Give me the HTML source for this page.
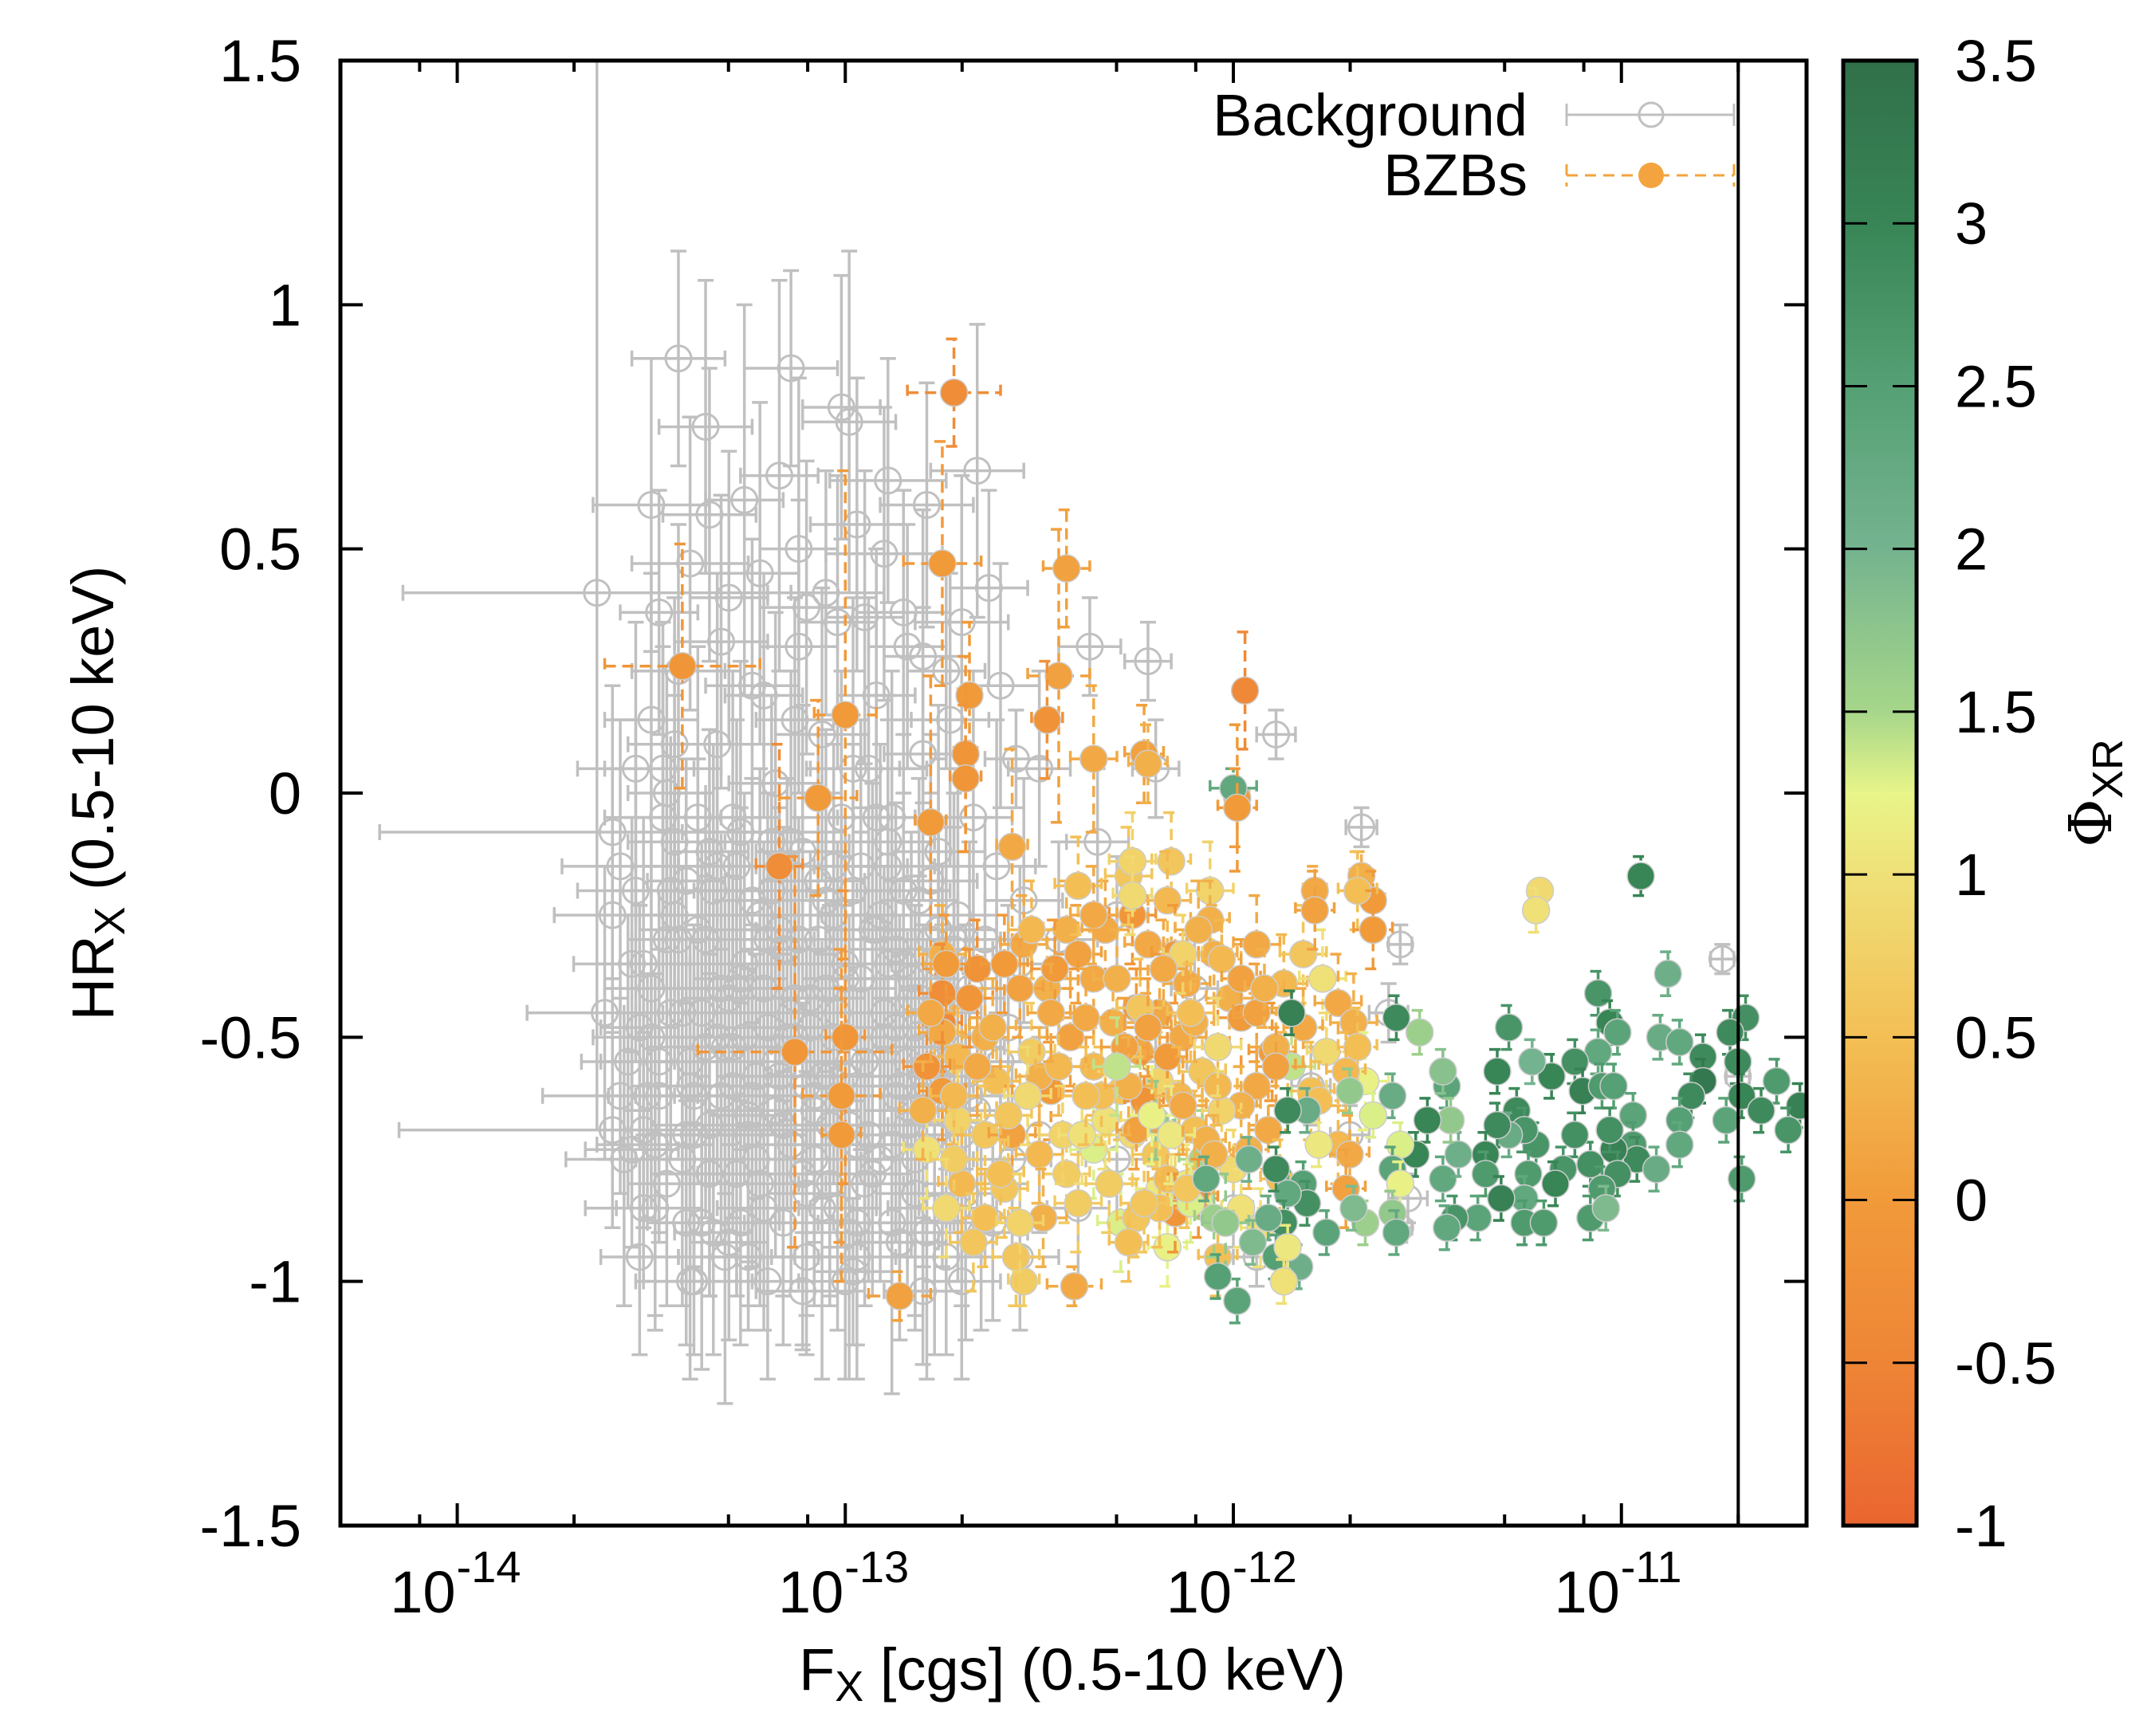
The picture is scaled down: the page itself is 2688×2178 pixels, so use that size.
<!DOCTYPE html>
<html><head><meta charset="utf-8"><style>
html,body{margin:0;padding:0;background:#fff;}
svg{display:block;font-family:"Liberation Sans",Arial,sans-serif;}
</style></head><body>
<svg id="chart" xmlns="http://www.w3.org/2000/svg" width="2688" height="2178" viewBox="0 0 2688 2178">
<defs>
<linearGradient id="cbgrad" x1="0" y1="1" x2="0" y2="0">
<stop offset="0" stop-color="#ea6530"/><stop offset="0.111" stop-color="#ee8536"/><stop offset="0.222" stop-color="#f19a3a"/><stop offset="0.333" stop-color="#f3bf55"/><stop offset="0.444" stop-color="#efe078"/><stop offset="0.5" stop-color="#e8f589"/><stop offset="0.556" stop-color="#a6d68a"/><stop offset="0.667" stop-color="#74b38f"/><stop offset="0.778" stop-color="#55a074"/><stop offset="0.889" stop-color="#388556"/><stop offset="1" stop-color="#31704a"/>
</linearGradient>
<clipPath id="plotclip"><rect x="427" y="76" width="1839" height="1838"/></clipPath>
</defs>
<rect x="0" y="0" width="2688" height="2178" fill="#fff"/>
<g id="bg-layer" clip-path="url(#plotclip)"></g>
<g id="bz-layer" clip-path="url(#plotclip)"></g>
<g id="axes"></g>
<g id="legend">
<text x="1916" y="170" font-size="74" text-anchor="end">Background</text>
<text x="1916" y="245" font-size="74" text-anchor="end">BZBs</text>
<g stroke="#c0c0c0" stroke-width="3" fill="none">
<line x1="1965" y1="144" x2="2175" y2="144"/><line x1="1965" y1="130" x2="1965" y2="158"/><line x1="2175" y1="130" x2="2175" y2="158"/><circle cx="2071" cy="144" r="15"/></g>
<g stroke="#f3a43e" stroke-width="3" fill="none">
<line x1="1965" y1="220" x2="2175" y2="220" stroke-dasharray="14,9"/><line x1="1965" y1="206" x2="1965" y2="234" stroke-dasharray="14,9"/><line x1="2175" y1="206" x2="2175" y2="234" stroke-dasharray="14,9"/><circle cx="2071" cy="220" r="16" fill="#f3a43e" stroke="none"/></g>
</g>
<text transform="translate(142,995) rotate(-90)" font-size="74" text-anchor="middle">HR<tspan font-size="54" dy="14">X</tspan><tspan dy="-14"> (0.5-10 keV)</tspan></text>
<text x="1345" y="2120" font-size="74" text-anchor="middle">F<tspan font-size="54" dy="14">X</tspan><tspan dy="-14"> [cgs] (0.5-10 keV)</tspan></text>
<text transform="translate(2648,995) rotate(-90)" font-size="74" text-anchor="middle" font-family="'DejaVu Serif','Liberation Serif',serif">Φ<tspan font-size="54" dy="14" font-family="'Liberation Sans',sans-serif">XR</tspan></text>
</svg>
<script>
// ---------- data ----------
const xLogMin = Math.log10(5e-15), xLogMax = Math.log10(3e-11);
const yMin = -1.5, yMax = 1.5;
const cbMin = -1, cbMax = 3.5;
const xTickExps = [-14, -13, -12, -11];
const xMinorMults = [2, 5, 8];
const yTickValues = [1.5, 1, 0.5, 0, -0.5, -1, -1.5];
const yTickLabels = ["1.5", "1", "0.5", "0", "-0.5", "-1", "-1.5"];
const cbTickValues = [3.5, 3, 2.5, 2, 1.5, 1, 0.5, 0, -0.5, -1];
const cbTickLabels = ["3.5", "3", "2.5", "2", "1.5", "1", "0.5", "0", "-0.5", "-1"];
const vLineFlux = 2e-11;

const bgF = [-13.64,-13.43,-13.14,-13.01,-12.99,-12.89,-12.66,-13.17,-13.50,-13.35,
-12.79,-12.63,-12.90,-12.37,-12.22,-11.89,-11.67,-11.57,-11.57,-11.55,
-11.94,-10.74,-10.70,-12.56,-13.60,-13.60,-13.52,-13.55,-13.52,-13.50,
-13.48,-13.40,-13.32,-13.22,-13.10,-13.05,-12.95,-12.85,-12.80,-12.74,
-12.70,-12.60,-12.50,-12.20,-12.35,-12.30,-12.45,-12.55,-12.60,-12.50,
-12.40,-12.55,-12.70,-12.65,-12.30,-12.20,-12.10,-12.00,-11.80,-11.60,
-11.70,
-13.45,-13.42,-13.40,-13.38,-13.36,-13.35,-13.33,-13.31,-13.30,-13.28,
-13.27,-13.25,-13.24,-13.22,-13.21,-13.20,-13.18,-13.17,-13.15,-13.14,
-13.12,-13.11,-13.10,-13.09,-13.08,-13.06,-13.05,-13.04,-13.03,-13.02,
-13.00,-12.99,-12.98,-12.97,-12.96,-12.95,-12.93,-12.92,-12.91,-12.90,
-12.88,-12.87,-12.86,-12.85,-12.84,-12.83,-12.82,-12.81,-12.80,-12.78,
-12.77,-12.76,-12.75,-12.74,-12.73,-12.72,-12.71,-12.70,-12.68,-12.67,
-12.66,-12.64,-12.62,-12.61,-12.58,-12.57,-12.54,-13.55,-13.56,-13.58,
-13.53,-13.50,-13.48,-13.47,-13.46,-13.44,-13.43,-13.41,-13.39,-13.37,
-13.34,-13.32,-13.29,-13.26,-13.23,-13.19,-13.16,-13.13,-13.07,-13.01,
-12.94,-12.89,-12.79,-12.69,-13.62,-13.60,-13.57,-13.54,-13.20,-13.00,
-12.80,-13.40,-13.30,-13.12,-12.97,-13.36,-13.26];
const bgH = [0.41,0.89,0.87,0.79,0.76,0.64,0.66,0.65,0.59,0.57,
0.59,0.42,0.49,0.30,0.27,0.12,-0.07,-0.31,-0.89,-0.83,
-0.95,-0.34,-0.58,0.07,-0.08,-0.69,-0.69,-0.73,-0.85,0.15,
0.37,0.47,0.31,0.45,0.38,0.41,0.36,0.37,0.28,0.25,
0.35,0.22,0.05,0.05,-0.10,-0.25,-0.30,-0.35,-0.55,-0.70,
-0.85,-0.95,-1.0,-0.9,-0.75,-0.55,-0.40,-0.85,-0.60,-0.45,
-0.70,
-0.2,-0.45,-0.6,-0.05,-0.3,-0.78,0.1,-0.52,-0.92,-0.15,
-0.38,-0.66,0.22,-0.25,-0.85,-0.48,0.02,-0.58,-0.32,-0.72,
0.30,-0.12,-0.95,-0.42,-0.62,0.12,-0.22,-0.80,-0.50,0.35,
-0.35,-0.68,0.05,-0.88,-0.15,-0.55,-0.28,0.20,-0.75,-0.45,
-0.05,-0.62,-0.92,-0.20,0.30,-0.38,-0.82,-0.52,0.08,-0.30,
-0.70,-0.12,-0.45,-0.95,0.15,-0.58,-0.25,-0.80,-0.40,-0.05,
-0.65,-0.30,-0.88,-0.15,-0.48,-0.75,-0.22,-0.35,-0.55,-0.15,
-0.95,-0.40,-0.62,0.05,-0.80,-0.10,0.25,-0.88,-0.70,-0.45,
-0.20,-0.62,-0.05,-0.50,-0.75,-0.20,-0.88,-0.50,-0.30,-0.05,
-0.70,-0.35,-0.60,-0.52,-0.45,-0.25,-0.75,0.05,-1.0,-1.0,
-1.02,-1.0,0.40,0.50,0.55,0.75,0.60];
const bgEx = [0.5,0.12,0.12,0.1,0.12,0.15,0.12,0.1,0.15,0.12,
0.12,0.1,0.15,0.08,0.06,0.05,0.04,0.03,0.03,0.05,
0.06,0.03,0.03,0.08,0.6,0.55,0.1,0.12,0.15,0.12,
0.1,0.15,0.12,0.1,0.12,0.15,0.1,0.12,0.1,0.1,
0.12,0.1,0.08,0.06,0.08,0.08,0.1,0.1,0.1,0.1,
0.08,0.1,0.1,0.12,0.08,0.08,0.06,0.05,0.05,0.05,
0.05,
0.15,0.12,0.15,0.12,0.1,0.15,0.12,0.12,0.1,0.15,
0.12,0.1,0.12,0.1,0.12,0.15,0.12,0.1,0.12,0.12,
0.1,0.12,0.1,0.12,0.15,0.12,0.1,0.12,0.12,0.1,
0.12,0.1,0.12,0.1,0.12,0.15,0.12,0.1,0.12,0.12,
0.1,0.12,0.1,0.12,0.1,0.12,0.1,0.12,0.1,0.12,
0.1,0.12,0.1,0.1,0.1,0.12,0.1,0.1,0.1,0.1,
0.1,0.1,0.1,0.1,0.1,0.1,0.1,0.15,0.12,0.15,
0.1,0.12,0.12,0.15,0.1,0.12,0.12,0.1,0.12,0.1,
0.12,0.12,0.12,0.1,0.12,0.12,0.1,0.12,0.12,0.12,
0.12,0.1,0.12,0.1,0.2,0.15,0.15,0.15,0.1,0.12,
0.1,0.12,0.1,0.1,0.12,0.12,0.1];
const bgEy = [1.1,0.22,0.2,0.27,0.35,0.25,0.3,0.4,0.3,0.3,
0.25,0.2,0.3,0.1,0.08,0.05,0.04,0.04,0.03,0.05,
0.06,0.03,0.03,0.1,0.3,0.2,0.2,0.2,0.15,0.3,
0.25,0.3,0.3,0.35,0.3,0.25,0.3,0.25,0.3,0.2,
0.3,0.25,0.2,0.1,0.15,0.12,0.2,0.2,0.25,0.2,
0.15,0.15,0.2,0.2,0.15,0.12,0.1,0.08,0.08,0.06,
0.06,
0.3,0.3,0.25,0.35,0.3,0.25,0.35,0.3,0.2,0.3,
0.35,0.3,0.3,0.3,0.25,0.3,0.35,0.3,0.35,0.3,
0.3,0.3,0.2,0.3,0.3,0.3,0.35,0.25,0.3,0.3,
0.3,0.3,0.35,0.25,0.3,0.3,0.3,0.3,0.25,0.3,
0.3,0.3,0.2,0.35,0.25,0.3,0.25,0.3,0.3,0.3,
0.3,0.3,0.3,0.2,0.3,0.3,0.3,0.25,0.3,0.3,
0.25,0.25,0.2,0.3,0.25,0.2,0.25,0.3,0.3,0.3,
0.2,0.3,0.3,0.3,0.25,0.3,0.3,0.25,0.3,0.3,
0.3,0.3,0.3,0.3,0.25,0.3,0.25,0.3,0.3,0.3,
0.3,0.3,0.3,0.25,0.3,0.3,0.3,0.3,0.2,0.2,
0.15,0.2,0.3,0.35,0.3,0.3,0.4];

const bgF2 = [-13.52,-13.48,-13.44,-13.41,-13.37,-13.33,-13.29,-13.26,-13.22,-13.19,
-13.15,-13.12,-13.08,-13.05,-13.02,-12.98,-12.95,-12.92,-12.88,-12.85,
-12.82,-12.78,-12.75,-12.72,-12.69,-13.50,-13.46,-13.42,-13.38,-13.34,
-13.30,-13.27,-13.23,-13.20,-13.16,-13.13,-13.09,-13.06,-13.03,-12.99,
-12.96,-12.93,-12.89,-12.86,-12.83,-12.79,-12.76,-12.73,-12.70,-13.54,
-13.49,-13.45,-13.39,-13.35,-13.31,-13.28,-13.24,-13.18,-13.14,-13.10,
-13.07,-13.04,-13.00,-12.97,-12.94,-12.90,-12.87,-12.84,-12.81,-12.77,
-12.74,-13.51,-13.43,-13.36,-13.28,-13.21,-13.14,-13.06,-12.99,-12.91,
-12.84,-12.76,-13.47,-13.40,-13.32,-13.25,-13.17,-13.10,-13.02,-12.95,
-12.87,-12.80,-13.53,-13.44,-13.35,-13.27,-13.18,-13.11,-13.03,-12.96,
-12.88,-12.81,-12.72,-13.49,-13.41,-13.33,-13.24,-13.16,-13.08,-13.00,
-12.92,-12.83,-12.75,-13.46,-13.37,-13.29,-13.21,-13.13,-13.04,-12.97,
-12.89,-12.82,-12.68,-13.58,-13.39,-13.25,-13.11,-12.98,-12.86,-12.71];
const bgH2 = [-0.35,-0.55,-0.25,-0.70,-0.45,-0.15,-0.60,-0.35,-0.80,-0.10,
-0.50,-0.30,-0.65,-0.40,-0.85,-0.20,-0.55,-0.05,-0.72,-0.35,
-0.48,-0.18,-0.62,-0.32,-0.82,-0.50,0.00,-0.75,-0.28,-0.90,
-0.42,-0.08,-0.58,-0.30,-0.68,0.15,-0.48,-0.85,-0.25,-0.55,
-0.38,-0.78,-0.15,-0.60,-0.42,-0.90,-0.28,-0.55,-0.70,-0.20,
-0.85,-0.45,-0.62,-0.12,-0.95,-0.40,-0.22,-0.65,-0.45,-0.82,
-0.18,-0.58,-0.38,-0.72,0.05,-0.50,-0.32,-0.68,-0.22,-0.85,
-0.42,-0.62,-0.30,-0.52,-0.78,-0.40,-0.10,-0.58,-0.90,-0.25,
-0.55,-0.35,-0.05,-0.55,-0.40,-0.70,-0.28,-0.60,-0.45,-0.80,
-0.48,-0.62,-0.48,0.10,-0.68,-0.88,-0.55,-0.78,-0.15,-0.38,
-0.88,-0.42,-0.30,-0.72,-0.18,-0.50,-0.62,-0.32,-0.75,-0.58,
-0.28,-0.65,-0.55,-0.30,-0.88,-0.52,0.20,-0.42,-0.68,-0.95,
-0.10,-0.75,-0.62,-0.62,-1.0,-0.95,-1.02,-0.98,-0.92,-0.85];
const bgEx2 = [0.12,0.15,0.1,0.12,0.15,0.1,0.12,0.15,0.1,0.12,
0.15,0.1,0.12,0.15,0.1,0.12,0.15,0.1,0.12,0.15,
0.1,0.12,0.15,0.1,0.12,0.15,0.1,0.12,0.15,0.1,
0.12,0.15,0.1,0.12,0.15,0.1,0.12,0.15,0.1,0.12,
0.15,0.1,0.12,0.15,0.1,0.12,0.15,0.1,0.12,0.15,
0.1,0.12,0.15,0.1,0.12,0.15,0.1,0.12,0.15,0.1,
0.12,0.15,0.1,0.12,0.15,0.1,0.12,0.15,0.1,0.12,
0.15,0.1,0.12,0.15,0.1,0.12,0.15,0.1,0.12,0.15,
0.1,0.12,0.15,0.1,0.12,0.15,0.1,0.12,0.15,0.1,
0.12,0.15,0.1,0.12,0.15,0.1,0.12,0.15,0.1,0.12,
0.15,0.1,0.12,0.15,0.1,0.12,0.15,0.1,0.12,0.15,
0.1,0.12,0.15,0.1,0.12,0.15,0.1,0.12,0.15,0.1,
0.12,0.15,0.1,0.2,0.15,0.12,0.12,0.1,0.12,0.1];
const bgEy2 = [0.3,0.35,0.25,0.3,0.35,0.25,0.3,0.35,0.25,0.3,
0.35,0.25,0.3,0.35,0.25,0.3,0.35,0.25,0.3,0.35,
0.25,0.3,0.35,0.25,0.3,0.35,0.25,0.3,0.35,0.25,
0.3,0.35,0.25,0.3,0.35,0.25,0.3,0.35,0.25,0.3,
0.35,0.25,0.3,0.35,0.25,0.3,0.35,0.25,0.3,0.35,
0.25,0.3,0.35,0.25,0.3,0.35,0.25,0.3,0.35,0.25,
0.3,0.35,0.25,0.3,0.35,0.25,0.3,0.35,0.25,0.3,
0.35,0.25,0.3,0.35,0.25,0.3,0.35,0.25,0.3,0.35,
0.25,0.3,0.35,0.25,0.3,0.35,0.25,0.3,0.35,0.25,
0.3,0.35,0.25,0.3,0.35,0.25,0.3,0.35,0.25,0.3,
0.35,0.25,0.3,0.35,0.25,0.3,0.35,0.25,0.3,0.35,
0.25,0.3,0.35,0.25,0.3,0.35,0.25,0.3,0.35,0.25,
0.3,0.35,0.25,0.2,0.15,0.15,0.12,0.15,0.12,0.15];

const bzF = [-12.72,-12.75,-12.43,-13.42,-12.45,-12.48,-11.97,-13.00,-12.68,-12.36,-12.23,-13.07,-12.69,-12.69,-11.99,-12.78,-12.57,-13.17,-12.16,-11.79,-11.67,-11.64,-11.21,-10.95,-12.00,-13.13,-12.75,-13.00,-13.01,-13.01,-12.86,-12.41,-12.54,
-12.75,-12.66,-12.59,-12.54,-12.48,-12.43,-12.40,-12.33,-12.26,-12.22,-12.17,-12.15,-12.06,-12.05,-12.12,-12.01,-11.98,-11.94,
-12.75,-12.71,-12.64,-12.61,-12.52,-12.47,-12.42,-12.36,-12.31,-12.29,-12.24,-12.19,-12.13,-12.08,
-12.75,-12.71,-12.64,-12.57,-12.50,-12.43,-12.36,-12.33,-12.26,-12.20,-12.15,-12.08,
-12.79,-12.70,-12.59,-12.49,-12.40,-12.29,-12.19,-12.56,-12.64,
-12.75,-12.74,-12.52,-12.40,-12.27,-12.26,-12.36,-11.94,-11.87,-11.82,-11.77,-11.73,-11.69,-11.90,-11.85,-11.80,-11.66,-12.79,-12.36,
-12.22,-11.99,-12.26,-12.06,-12.13,-12.03,-11.98,-11.92,-11.79,-11.68,
-11.64,-11.82,-11.89,-11.76,-11.68,-11.71,-11.89,-11.94,-11.98,-12.03,
-12.04,-12.10,-12.19,-12.25,-12.17,-12.23,-12.20,-12.25,-12.10,-12.07,
-11.91,-11.96,-11.78,-11.73,-11.70,-11.71,-11.88,-12.00,-12.05,-12.17,
-12.12,-12.09,-11.98,-11.93,-12.04,-12.17,-12.15,-12.19,-12.25,-12.27,
-12.11,-12.05,-12.12,
-12.78,-12.72,-12.68,-12.62,-12.58,-12.55,-12.50,-12.46,-12.44,-12.38,
-12.34,-12.30,-12.28,-12.24,-12.21,-12.18,-12.14,-12.11,-12.09,-12.04,
-12.72,-12.66,-12.60,-12.53,-12.45,-12.39,-12.32,-12.27,-12.22,-12.16,
-12.80,-12.74,-12.67,-12.55,-12.47,-12.38,-12.30,-12.23,-12.13,-12.02,
-11.22,-10.88,-11.06,-10.68,-11.03,-11.01,-11.29,-10.90,-10.85,-10.72,
-10.79,-10.70,-11.06,-11.12,-11.32,-11.18,-11.23,-10.60,-10.54,-10.79,
-10.82,-10.69,-10.64,-10.73,-10.85,-10.57,-10.69,-11.10,-11.05,-11.02,
-10.97,-10.97,-10.96,-11.02,-10.91,-11.01,-10.85,-11.03,-11.08,-11.05,
-11.08,-11.04,-11.12,-11.15,-11.22,-11.24,-11.17,-11.25,-11.27,-11.25,
-11.29,-11.32,-11.35,-11.35,-11.31,-11.25,-11.20,-11.37,-11.43,-11.45,
-11.46,-11.42,-11.45,-11.44,-11.46,-11.50,-11.53,-11.52,-11.58,-11.59,
-11.57,-11.59,-11.57,-11.59,-11.58,-11.66,-11.69,-11.76,-11.64,-11.70,
-11.78,-11.81,-11.86,-11.85,-11.82,-11.81,-11.86,-11.89,-11.87,-11.89,
-11.83,-11.86,-11.87,-11.99,-12.04,-11.91,-11.96,-12.07,-11.95];
const bzH = [0.82,0.47,0.46,0.26,0.24,0.15,0.21,0.16,0.20,0.07,0.08,-0.01,0.08,0.03,-0.01,-0.06,-0.11,-0.15,-0.14,-0.20,-0.17,-0.22,-0.20,-0.17,0.01,-0.53,-0.47,-0.50,-0.62,-0.70,-1.03,-1.01,-1.00,
-0.33,-0.36,-0.35,-0.31,-0.40,-0.28,-0.33,-0.28,-0.25,-0.31,-0.22,-0.33,-0.20,-0.33,-0.39,-0.42,-0.46,-0.45,
-0.49,-0.54,-0.50,-0.59,-0.53,-0.61,-0.50,-0.56,-0.47,-0.61,-0.53,-0.59,-0.50,-0.57,
-0.61,-0.67,-0.70,-0.70,-0.74,-0.78,-0.73,-0.67,-0.70,-0.74,-0.81,-0.75,
-0.73,-0.80,-0.81,-0.87,-0.84,-0.88,-0.81,-0.95,-0.87,
-0.41,-0.35,-0.28,-0.19,-0.17,-0.14,-0.25,-0.31,-0.39,-0.33,-0.38,-0.43,-0.47,-0.53,-0.56,-0.61,-0.59,-0.56,-0.38,
0.06,-0.03,-0.21,-0.26,-0.33,-0.34,-0.38,-0.40,-0.24,-0.20,
-0.28,-0.48,-0.52,-0.53,-0.52,-0.57,-0.56,-0.60,-0.64,-0.65,
-0.60,-0.47,-0.45,-0.44,-0.54,-0.63,-0.67,-0.69,-0.69,-0.71,
-0.69,-0.73,-0.63,-0.72,-0.74,-0.81,-0.79,-0.77,-0.74,-0.79,
-0.80,-0.83,-0.85,-0.89,-0.95,-0.93,-0.86,-0.85,-0.87,-0.92,
-0.84,-0.87,-0.81,
-0.45,-0.62,-0.42,-0.48,-0.66,-0.40,-0.58,-0.36,-0.70,-0.46,
-0.62,-0.38,-0.52,-0.44,-0.66,-0.36,-0.62,-0.45,-0.28,-0.52,
-0.75,-0.56,-0.78,-0.62,-0.56,-0.70,-0.80,-0.60,-0.48,-0.70,
-0.65,-0.85,-0.92,-0.88,-0.45,-0.62,-0.56,-0.84,-0.64,-0.88,
-0.24,-0.37,-0.41,-0.46,-0.47,-0.49,-0.48,-0.50,-0.51,-0.49,
-0.54,-0.55,-0.53,-0.55,-0.57,-0.58,-0.55,-0.59,-0.64,-0.59,
-0.62,-0.62,-0.65,-0.67,-0.67,-0.69,-0.79,-0.61,-0.60,-0.60,
-0.66,-0.72,-0.75,-0.73,-0.77,-0.78,-0.72,-0.69,-0.76,-0.81,
-0.87,-0.85,-0.70,-0.77,-0.72,-0.78,-0.80,-0.83,-0.65,-0.69,
-0.70,-0.68,-0.74,-0.78,-0.83,-0.88,-0.88,-0.87,-0.87,-0.89,
-0.79,-0.74,-0.60,-0.67,-0.57,-0.67,-0.74,-0.49,-0.46,-0.62,
-0.72,-0.77,-0.80,-0.86,-0.90,-0.88,-0.85,-0.90,-0.66,-0.61,
-0.72,-0.65,-0.65,-0.45,-0.80,-0.84,-0.82,-0.77,-0.88,-0.95,
-0.97,-0.93,-1.00,-1.04,-0.99,-0.87,-0.75,-0.79,-0.92];
const bzPhi = [-0.3,0.0,0.1,-0.1,0.1,-0.2,-0.4,0.0,0.0,0.2,0.1,0.0,-0.1,-0.1,0.0,0.0,0.2,-0.3,0.6,0.2,0.3,0.0,0.9,3.0,2.3,-0.1,-0.4,-0.1,0.0,0.0,0.1,0.2,0.7,
0.3,-0.2,0.0,0.2,0.3,0.3,0.1,0.2,-0.1,0.2,0.4,0.0,0.8,0.3,0.2,0.3,0.0,0.1,
0.2,0.4,0.3,0.5,0.7,0.0,0.1,0.4,0.3,0.6,0.2,0.8,0.2,0.6,
0.0,0.8,0.6,0.1,0.4,0.7,1.3,1.0,0.9,0.6,0.8,1.5,
1.0,0.4,0.6,0.3,0.7,1.3,1.1,0.6,0.5,
-0.3,0.0,0.4,0.5,0.6,0.8,0.2,0.2,0.4,0.6,1.0,0.2,0.3,0.0,1.4,0.5,1.2,-0.2,0.2,
0.3,0.0,0.9,0.3,0.8,0.4,0.1,0.3,0.1,0.5,
0.0,0.2,0.3,0.9,0.5,0.4,0.1,0.2,0.3,0.8,
0.4,0.3,0.2,0.0,0.0,-0.2,1.7,0.1,0.5,0.3,
0.2,0.3,0.5,0.4,0.2,0.1,0.5,0.9,0.3,0.4,
1.1,-0.1,1.0,1.0,0.5,1.2,-0.1,0.5,0.6,0.5,
1.3,1.6,0.6,
0.2,0.4,-0.1,0.3,0.6,0.1,0.3,0.0,0.8,0.2,
0.5,0.3,0.1,0.6,1.2,0.2,0.4,0.5,0.3,0.9,
0.7,0.2,0.5,0.9,0.4,1.0,0.7,0.3,0.1,1.1,
0.3,0.9,0.6,0.8,0.2,0.5,1.4,0.6,0.2,1.7,
1.0,2.1,2.7,2.8,3.0,2.4,2.7,2.2,2.3,2.9,
2.9,2.9,2.3,2.8,3.0,3.0,2.0,2.6,3.1,3.3,
2.9,3.0,2.9,2.4,2.5,2.7,2.6,3.1,2.6,2.5,
2.4,2.6,2.9,3.1,2.2,2.8,2.3,2.8,2.8,2.6,
2.6,1.9,2.8,2.7,2.7,2.6,3.0,2.3,2.9,2.7,
2.2,2.9,3.0,2.6,3.1,2.6,2.6,2.4,2.7,2.3,
2.3,2.1,2.4,1.7,1.8,3.0,3.0,1.6,2.9,2.2,
1.3,2.4,1.2,1.7,2.3,1.6,1.9,2.4,1.3,1.7,
1.1,2.2,2.9,3.1,2.5,2.8,2.3,2.9,2.8,2.5,
2.1,1.1,1.0,2.4,2.5,2.2,2.1,2.3,1.9];
const bzEx = [0.12,0.1,0.06,0.2,0.08,0.04,0.02,0.08,0.03,0.06,0.05,0.1,0.03,0.04,0.03,0.04,0.04,0.06,0.05,0.03,0.03,0.03,0.02,0.02,0.06,0.25,0.05,0.05,0.1,0.05,0.08,0.07,0.04,
0.06,0.06,0.06,0.06,0.06,0.06,0.06,0.06,0.06,0.06,0.06,0.06,0.06,0.06,0.06,0.06,0.06,0.06,
0.06,0.06,0.06,0.06,0.06,0.06,0.06,0.06,0.06,0.06,0.06,0.06,0.06,0.06,
0.06,0.06,0.06,0.06,0.06,0.06,0.06,0.06,0.06,0.06,0.06,0.06,
0.06,0.06,0.06,0.06,0.06,0.06,0.06,0.06,0.06,
0.06,0.06,0.06,0.06,0.06,0.06,0.06,0.06,0.06,0.06,0.06,0.06,0.06,0.06,0.06,0.06,0.06,0.06,0.06,
0.05,0.05,0.05,0.05,0.05,0.05,0.05,0.05,0.05,0.05,
0.05,0.05,0.05,0.05,0.05,0.05,0.05,0.05,0.05,0.05,
0.05,0.05,0.05,0.05,0.05,0.05,0.05,0.05,0.05,0.05,
0.05,0.05,0.05,0.05,0.05,0.05,0.05,0.05,0.05,0.05,
0.05,0.05,0.05,0.05,0.05,0.05,0.05,0.05,0.05,0.05,
0.05,0.05,0.05,
0.06,0.06,0.06,0.06,0.06,0.06,0.06,0.06,0.06,0.06,
0.06,0.06,0.06,0.06,0.06,0.06,0.06,0.06,0.06,0.06,
0.06,0.06,0.06,0.06,0.06,0.06,0.06,0.06,0.06,0.06,
0.06,0.06,0.06,0.06,0.06,0.06,0.06,0.06,0.06,0.06,
0.025,0.025,0.025,0.025,0.025,0.025,0.025,0.025,0.025,0.025,
0.025,0.025,0.025,0.025,0.025,0.025,0.025,0.025,0.025,0.025,
0.025,0.025,0.025,0.025,0.025,0.025,0.025,0.025,0.025,0.025,
0.025,0.025,0.025,0.025,0.025,0.025,0.025,0.025,0.025,0.025,
0.025,0.025,0.025,0.025,0.025,0.025,0.025,0.025,0.025,0.025,
0.025,0.025,0.025,0.025,0.025,0.025,0.025,0.025,0.025,0.025,
0.025,0.025,0.025,0.025,0.025,0.025,0.025,0.025,0.025,0.025,
0.025,0.025,0.025,0.025,0.025,0.025,0.025,0.025,0.025,0.025,
0.025,0.025,0.025,0.025,0.025,0.025,0.025,0.025,0.025,0.025,
0.025,0.025,0.025,0.025,0.025,0.025,0.025,0.025,0.025];
const bzEy = [0.11,0.25,0.12,0.25,0.3,0.12,0.12,0.5,0.15,0.15,0.1,0.2,0.2,0.15,0.15,0.3,0.2,0.25,0.1,0.05,0.05,0.06,0.02,0.04,0.04,0.4,0.1,0.3,0.3,0.3,0.05,0.04,0.05,
0.1,0.1,0.1,0.1,0.1,0.1,0.1,0.1,0.1,0.1,0.1,0.1,0.1,0.1,0.1,0.1,0.1,0.1,
0.1,0.1,0.1,0.1,0.1,0.1,0.1,0.1,0.1,0.1,0.1,0.1,0.1,0.1,
0.1,0.1,0.1,0.1,0.1,0.1,0.1,0.1,0.1,0.1,0.1,0.1,
0.1,0.1,0.1,0.1,0.1,0.1,0.1,0.1,0.1,
0.1,0.1,0.1,0.1,0.1,0.1,0.1,0.1,0.1,0.1,0.1,0.1,0.1,0.1,0.1,0.1,0.1,0.1,0.1,
0.08,0.08,0.08,0.08,0.08,0.08,0.08,0.08,0.08,0.08,
0.08,0.08,0.08,0.08,0.08,0.08,0.08,0.08,0.08,0.08,
0.08,0.08,0.08,0.08,0.08,0.08,0.08,0.08,0.08,0.08,
0.08,0.08,0.08,0.08,0.08,0.08,0.08,0.08,0.08,0.08,
0.08,0.08,0.08,0.08,0.08,0.08,0.08,0.08,0.08,0.08,
0.08,0.08,0.08,
0.1,0.1,0.1,0.1,0.1,0.1,0.1,0.1,0.1,0.1,
0.1,0.1,0.1,0.1,0.1,0.1,0.1,0.1,0.1,0.1,
0.1,0.1,0.1,0.1,0.1,0.1,0.1,0.1,0.1,0.1,
0.1,0.1,0.1,0.1,0.1,0.1,0.1,0.1,0.1,0.1,
0.045,0.045,0.045,0.045,0.045,0.045,0.045,0.045,0.045,0.045,
0.045,0.045,0.045,0.045,0.045,0.045,0.045,0.045,0.045,0.045,
0.045,0.045,0.045,0.045,0.045,0.045,0.045,0.045,0.045,0.045,
0.045,0.045,0.045,0.045,0.045,0.045,0.045,0.045,0.045,0.045,
0.045,0.045,0.045,0.045,0.045,0.045,0.045,0.045,0.045,0.045,
0.045,0.045,0.045,0.045,0.045,0.045,0.045,0.045,0.045,0.045,
0.045,0.045,0.045,0.045,0.045,0.045,0.045,0.045,0.045,0.045,
0.045,0.045,0.045,0.045,0.045,0.045,0.045,0.045,0.045,0.045,
0.045,0.045,0.045,0.045,0.045,0.045,0.045,0.045,0.045,0.045,
0.045,0.045,0.045,0.045,0.045,0.045,0.045,0.045,0.045];

// ---------- geometry ----------
const PL = 427, PR = 2266, PT = 76, PB = 1914;
const CBL = 2312, CBR = 2404;
const NS = "http://www.w3.org/2000/svg";
function xPos(logF){ return PL + (logF - xLogMin) / (xLogMax - xLogMin) * (PR - PL); }
function yPos(h){ return PB - (h - yMin) / (yMax - yMin) * (PB - PT); }
function cbPos(v){ return PB - (v - cbMin) / (cbMax - cbMin) * (PB - PT); }
const cmapStops = [[-1,[234,101,48]],[-0.5,[238,133,54]],[0,[241,154,58]],[0.5,[243,191,85]],[1,[239,224,120]],[1.25,[232,245,137]],[1.5,[166,214,138]],[2,[116,179,143]],[2.5,[85,160,116]],[3,[56,133,86]],[3.5,[49,112,74]]];
function cmap(v){
  if (v <= cmapStops[0][0]) v = cmapStops[0][0];
  if (v >= cmapStops[cmapStops.length-1][0]) v = cmapStops[cmapStops.length-1][0];
  for (let i = 0; i < cmapStops.length-1; i++){
    const a = cmapStops[i], b = cmapStops[i+1];
    if (v >= a[0] && v <= b[0]){
      const t = (v - a[0]) / (b[0] - a[0]);
      const c = a[1].map((q, k) => Math.round(q + (b[1][k] - q) * t));
      return "rgb(" + c.join(",") + ")";
    }
  }
  return "rgb(49,112,74)";
}
function mk(tag, attrs, parent){
  const e = document.createElementNS(NS, tag);
  for (const k in attrs) e.setAttribute(k, attrs[k]);
  parent.appendChild(e);
  return e;
}
function errBars(g, lf, h, ex, ey, color, dashed, w){
  const x0 = xPos(lf - ex), x1 = xPos(lf + ex), xc = xPos(lf);
  const y0 = yPos(h - ey), y1 = yPos(h + ey), yc = yPos(h);
  const cap = 10;
  const d = "M"+x0+" "+yc+"H"+x1+"M"+x0+" "+(yc-cap)+"V"+(yc+cap)+"M"+x1+" "+(yc-cap)+"V"+(yc+cap)+
            "M"+xc+" "+y0+"V"+y1+"M"+(xc-cap)+" "+y0+"H"+(xc+cap)+"M"+(xc-cap)+" "+y1+"H"+(xc+cap);
  const p = mk("path", {d: d, stroke: color, "stroke-width": w, fill: "none"}, g);
  if (dashed) p.setAttribute("stroke-dasharray", "14,8");
  return p;
}

// ---------- background series ----------
const bgLayer = document.getElementById("bg-layer");
const allBgF = bgF.concat(bgF2), allBgH = bgH.concat(bgH2), allBgEx = bgEx.concat(bgEx2), allBgEy = bgEy.concat(bgEy2);
const nBg = Math.min(allBgF.length, allBgH.length, allBgEx.length, allBgEy.length);
for (let i = 0; i < nBg; i++){
  const p = errBars(bgLayer, allBgF[i], allBgH[i], allBgEx[i], allBgEy[i], "#c0c0c0", false, 3.5);
  
  
}
for (let i = 0; i < nBg; i++){
  const c = mk("circle", {cx: xPos(allBgF[i]), cy: yPos(allBgH[i]), r: 16, fill: "none", stroke: "#c0c0c0", "stroke-width": 3}, bgLayer);
  
  
}

// ---------- BZB series ----------
const bzLayer = document.getElementById("bz-layer");
const nBz = Math.min(bzF.length, bzH.length, bzPhi.length, bzEx.length, bzEy.length);
for (let i = 0; i < nBz; i++){
  const col = cmap(bzPhi[i]);
  const p = errBars(bzLayer, bzF[i], bzH[i], bzEx[i], bzEy[i], col, true, 3.5);
  
  
  const c = mk("circle", {cx: xPos(bzF[i]), cy: yPos(bzH[i]), r: 17, fill: col, stroke: "#cccccc", "stroke-width": 1.5}, bzLayer);
  
  
}

// ---------- axes ----------
const ax = document.getElementById("axes");
const vx = xPos(Math.log10(vLineFlux));
const vl = mk("line", {x1: vx, y1: PT, x2: vx, y2: PB, stroke: "#000", "stroke-width": 4}, ax);


const frame = mk("rect", {x: PL, y: PT, width: PR-PL, height: PB-PT, fill: "none", stroke: "#000", "stroke-width": 5}, ax);


let tickD = "";
for (let e = -15; e <= -11; e++){
  const xm = xPos(e);
  if (xm >= PL && xm <= PR) tickD += "M"+xm+" "+PB+"v-28M"+xm+" "+PT+"v28";
  for (const m of xMinorMults){
    const xn = xPos(e + Math.log10(m));
    if (xn > PL+2 && xn < PR-2) tickD += "M"+xn+" "+PB+"v-14M"+xn+" "+PT+"v14";
  }
}
for (const v of yTickValues){
  const y = yPos(v);
  tickD += "M"+PL+" "+y+"h28M"+PR+" "+y+"h-28";
}
const ticks = mk("path", {d: tickD, stroke: "#000", "stroke-width": 4, fill: "none"}, ax);


xTickExps.forEach(function(ex){
  const x = xPos(ex);
  const t = mk("text", {x: x - 2, y: 2023, "font-size": 74, "text-anchor": "end"}, ax);
  t.textContent = "10";
  
  
  const s = mk("text", {x: x - 1, y: 1985, "font-size": 56}, ax);
  s.textContent = String(ex);
  
  
});
yTickValues.forEach(function(v, i){
  const t = mk("text", {x: 378, y: yPos(v) + 26, "font-size": 74, "text-anchor": "end"}, ax);
  t.textContent = yTickLabels[i];
  
  
});
// colorbar
const cb = mk("rect", {x: CBL, y: PT, width: CBR-CBL, height: PB-PT, fill: "url(#cbgrad)", stroke: "#000", "stroke-width": 5}, ax);


let cbD = "";
cbTickValues.forEach(function(v){
  const y = cbPos(v);
  if (y > PT+3 && y < PB-3) cbD += "M"+CBL+" "+y+"h30M"+CBR+" "+y+"h-30";
});
const cbt = mk("path", {d: cbD, stroke: "#000", "stroke-width": 3, fill: "none"}, ax);


cbTickValues.forEach(function(v, i){
  const t = mk("text", {x: 2452, y: cbPos(v) + 26, "font-size": 74}, ax);
  t.textContent = cbTickLabels[i];
  
  
});
</script>
</body></html>
